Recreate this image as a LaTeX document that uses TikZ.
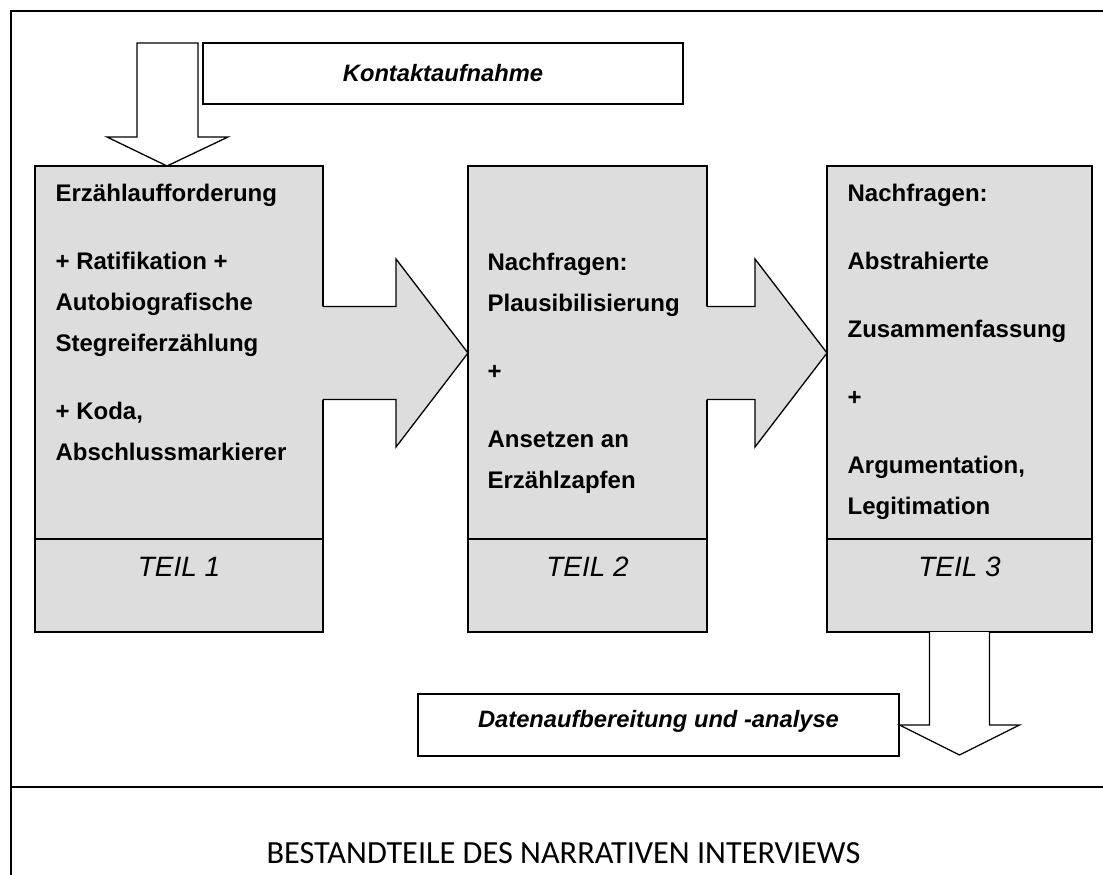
\documentclass[tikz,border=0pt]{standalone}
\usepackage{fontspec}
\setmainfont{Liberation Sans}
\newfontfamily\titlefont{Carlito}
\usetikzlibrary{calc,positioning}
\definecolor{boxgray}{RGB}{221,221,221}
\tikzset{
	partbox/.style={draw, fill=boxgray, outer sep=0pt, inner sep=0pt, anchor=north west},
	parttext/.style={anchor=north west, align=left, inner sep=0pt, font=\fontsize{24}{41}\selectfont\bfseries},
	teil/.style={inner sep=0pt, font=\fontsize{28}{30}\selectfont\itshape},
	infobox/.style={draw, fill=white, outer sep=0pt, inner sep=0pt, anchor=north west, font=\fontsize{23.7}{26}\selectfont\bfseries\itshape},
}
\newcommand{\pfeil}[2]{%
	\coordinate (t) at ($(#2.north west)+(0,187)$);
	\coordinate (s) at (#1.east |- t);
	\fill[boxgray] ($(s)+(-2,-46.5)$) -- ($(t)+(-72,-46.5)$) -- ($(t)+(-72,-94)$) -- (t) -- ($(t)+(-72,94)$) -- ($(t)+(-72,46.5)$) -- ($(s)+(-2,46.5)$) -- cycle;
	\draw ($(s)+(0,-46.5)$) -- ($(t)+(-72,-46.5)$) -- ($(t)+(-72,-94)$) -- (t) -- ($(t)+(-72,94)$) -- ($(t)+(-72,46.5)$) -- ($(s)+(0,46.5)$);
}

\begin{document}
\begin{tikzpicture}[x=1pt, y=-1pt, line width=1.3pt]
	\useasboundingbox (0,0) rectangle (1103,875);
	\draw (1103,11) -- (11,11) -- (11,875);
	\draw (11,787) -- (1103,787);
	\node[partbox, minimum width=288pt, minimum height=466pt] (p1) at (35,166) {};
	\node[partbox, minimum width=239pt, minimum height=466pt] (p2) at (468,166) {};
	\node[partbox, minimum width=265pt, minimum height=466pt] (p3) at (827,166) {};
	\foreach \i in {1,2,3}{
		\draw ([yshift=93pt]p\i.south west) -- ([yshift=93pt]p\i.south east);
		\node[teil] (teil\i) at ([yshift=65pt]p\i.south) {TEIL \i};
	}
	\pfeil{p1}{p2}
	\pfeil{p2}{p3}
	\node[parttext] (t1) at ($(p1.north west)+(20,17.5)$) {Erzählaufforderung\\[27pt] + Ratifikation +\\ Autobiografische\\ Stegreiferzählung\\[27pt] + Koda,\\ Abschlussmarkierer};
	\node[parttext] (t2) at ($(p2.north west)+(19,86.5)$) {Nachfragen:\\ Plausibilisierung\\[27pt] +\\[27pt] Ansetzen an\\ Erzählzapfen};
	\node[parttext] (t3) at ($(p3.north west)+(20,17.5)$) {Nachfragen:\\[27pt] Abstrahierte\\[27pt] Zusammenfassung\\[27pt] +\\[27pt] Argumentation,\\ Legitimation};
	% oben
	\node[infobox, minimum width=480pt, minimum height=61pt] (kont) at (203,43) {Kontaktaufnahme};
	\coordinate (k1) at ([xshift=-12pt]p1.north);
	\draw[fill=white] (k1) -- ++(-60,-29) -- ++(30,0) -- ++(0,-94) -- ++(61,0) -- ++(0,94) -- ++(30,0) -- cycle;
	% unten
	\node[infobox, minimum width=481pt, minimum height=62pt, text height=10pt] (daten) at (418,694) {Datenaufbereitung und -analyse};
	\draw[fill=white] ([xshift=-30pt]p3.south) -- ++(0,93) -- ++(-30,0) -- ++(60,30) -- ++(60,-30) -- ++(-30,0) -- ++(0,-93);
	\node[inner sep=0pt, font=\titlefont\fontsize{32.3}{35}\selectfont] (titel) at (563.5,853) {BESTANDTEILE DES NARRATIVEN INTERVIEWS};
\end{tikzpicture}
\end{document}
